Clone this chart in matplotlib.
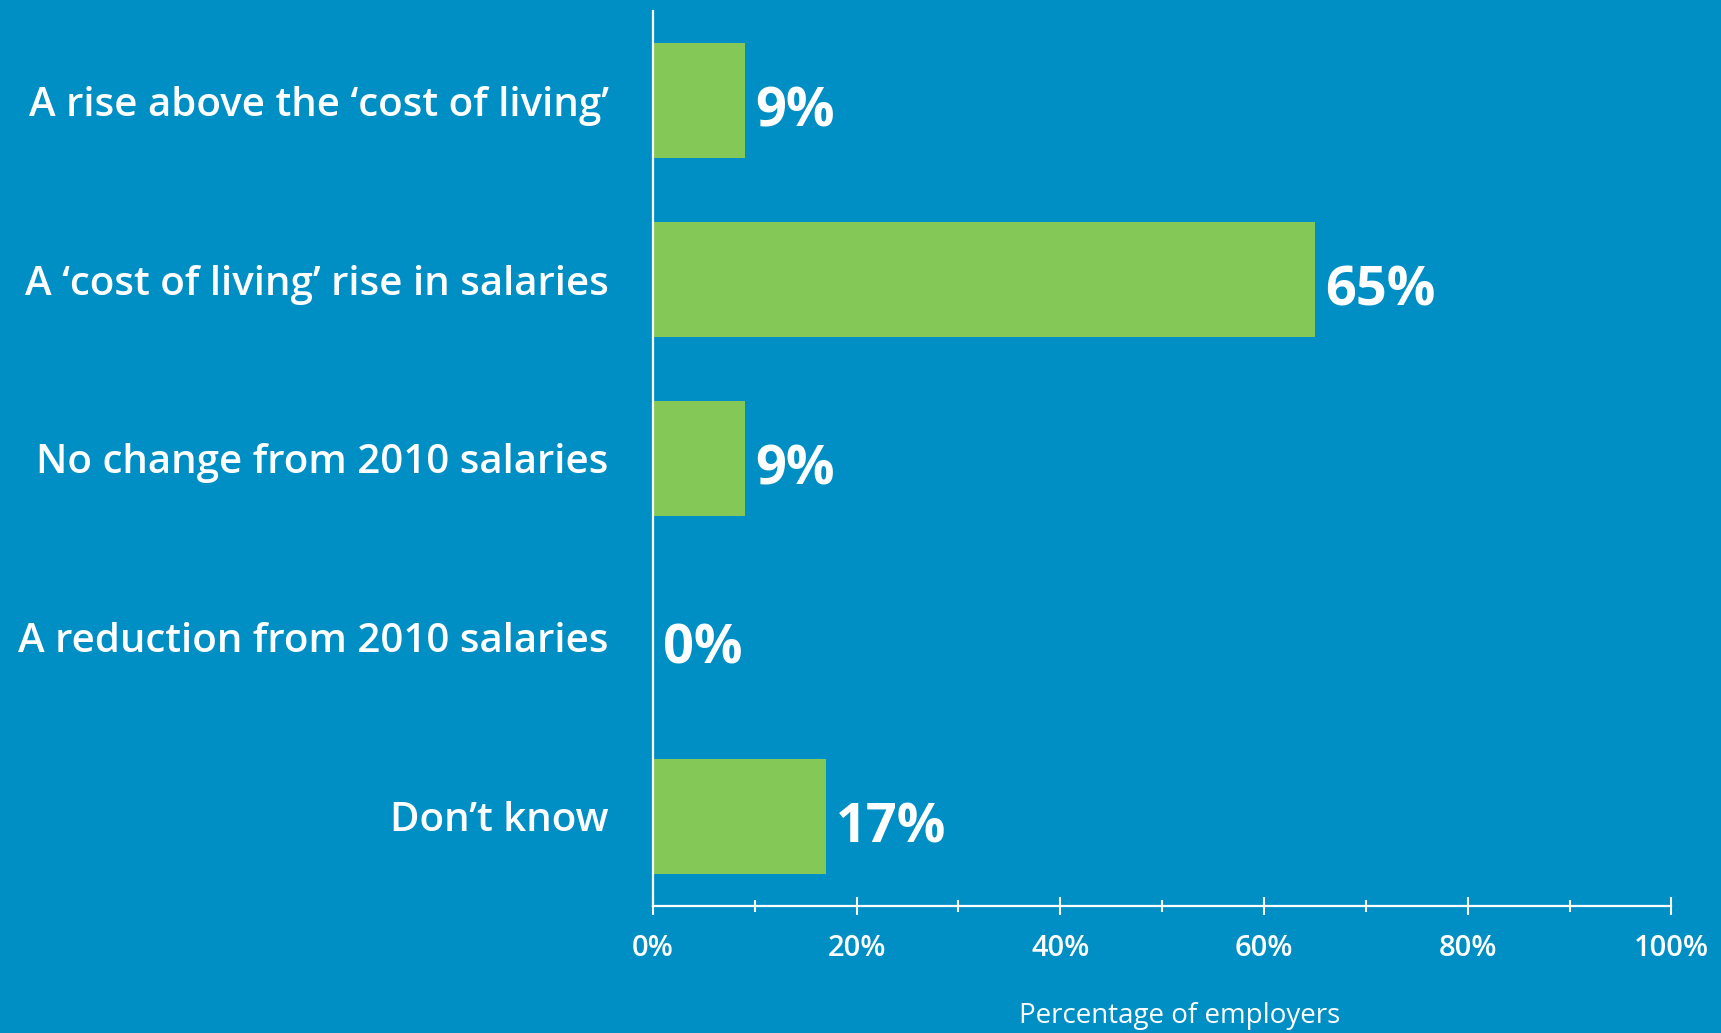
import numpy as np
import matplotlib.pyplot as plt
from matplotlib.ticker import MultipleLocator, FuncFormatter

# Survey answers and share of employers
categories = [
    "A rise above the \u2018cost of living\u2019",
    "A \u2018cost of living\u2019 rise in salaries",
    "No change from 2010 salaries",
    "A reduction from 2010 salaries",
    "Don\u2019t know",
]
values = [9, 65, 9, 0, 17]
value_labels = ["9%", "65%", "9%", "0%", "17%"]

bg = "#008fc5"
green = "#84c857"

plt.rcParams["font.family"] = ["Open Sans", "DejaVu Sans"]

fig = plt.figure(figsize=(17.21, 10.33), dpi=100, facecolor=bg)
ax = fig.add_axes([0.3794, 0.1232, 0.5918, 0.866])
ax.set_facecolor(bg)

y = np.arange(len(categories))
ax.barh(y, values, height=0.64, color=green, zorder=2)

# value annotations next to each bar
for yi, v, lab in zip(y, values, value_labels):
    ax.text(v + 1.0, yi + 0.03, lab, va="center_baseline", ha="left", color="white",
            fontsize=39, fontweight="bold")

ax.set_xlim(0, 100)
ax.set_ylim(4.5, -0.5)

# category names on the left
ax.set_yticks(y)
ax.set_yticklabels(categories, fontsize=29, fontweight="semibold", color="white")
ax.tick_params(axis="y", length=0, pad=32)
for lab in ax.get_yticklabels():
    lab.set_verticalalignment("center_baseline")

ax.xaxis.set_major_locator(MultipleLocator(20))
ax.xaxis.set_minor_locator(MultipleLocator(10))
ax.xaxis.set_major_formatter(FuncFormatter(lambda v, p: f"{v:.0f}%"))
ax.tick_params(axis="x", which="major", direction="inout", length=13, width=1.5,
               color="white", labelcolor="white", labelsize=21, pad=14)
ax.tick_params(axis="x", which="minor", direction="inout", length=8, width=1.5,
               color="white")
for lab in ax.get_xticklabels():
    lab.set_fontweight("semibold")

for side in ["top", "right"]:
    ax.spines[side].set_visible(False)
for side in ["left", "bottom"]:
    ax.spines[side].set_color("white")
    ax.spines[side].set_linewidth(1.6)

fig.text(1180 / 1721, 1 - 1016 / 1033, "Percentage of employers", color="white",
         fontsize=20, ha="center", va="center")

fig.savefig("out.png", dpi=100, facecolor=bg)
